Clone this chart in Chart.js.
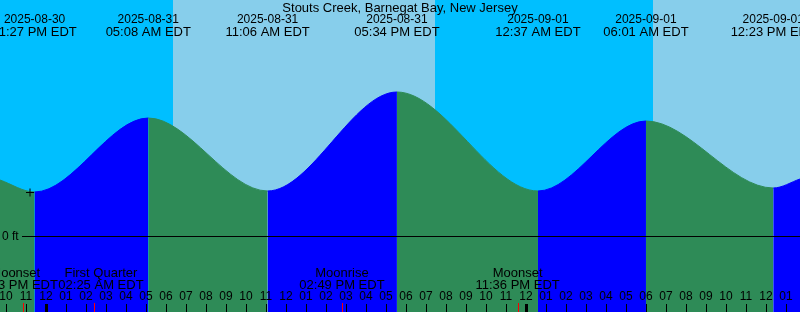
<!DOCTYPE html>
<html lang="en">
<head>
    <meta charset="UTF-8">
    <title>Stouts Creek, Barnegat Bay, New Jersey</title>
    <style>
        html, body { margin: 0; padding: 0; background: #fff; }
        canvas { display: block; }
    </style>
</head>
<body>
    <canvas id="tideChart" width="800" height="312"></canvas>

    <script src="https://cdn.jsdelivr.net/npm/chart.js"></script>
    <script>
        // all times are hours from midnight, 2025-08-31 EDT
        const viewStart = -2.28;
        const viewEnd = 37.72;

        const tideDates = ['2025-08-30', '2025-08-31', '2025-08-31', '2025-08-31', '2025-09-01', '2025-09-01', '2025-09-01'];
        const tideTimes = ['11:27 PM EDT', '05:08 AM EDT', '11:06 AM EDT', '05:34 PM EDT', '12:37 AM EDT', '06:01 AM EDT', '12:23 PM EDT'];
        const tideHours = [-0.55, 5.133, 11.1, 17.567, 24.617, 30.017, 36.383];
        const tideFeet = [0.88, 2.36, 0.90, 2.88, 0.90, 2.30, 0.96];
        const edgeFeet = [1.12, 1.14]; // level at left and right edge

        const nowHour = -0.78;
        const nowFeet = 0.87;

        const dayStarts = [6.35, 30.37];
        const dayEnds = [19.47, viewEnd];

        const moonNames = ['Moonset', 'First Quarter', 'Moonrise', 'Moonset'];
        const moonTimes = ['10:53 PM EDT', '02:25 AM EDT', '02:49 PM EDT', '11:36 PM EDT'];
        const moonHours = [-1.117, 2.417, 14.817, 23.6];
        const moonNudge = [-8, 7, 0, 0]; // px, keeps the first two labels apart

        const yMin = -1.52, yMax = 4.72;

        const title = 'Stouts Creek, Barnegat Bay, New Jersey';
        const fontSmall = '12px "Liberation Sans", Arial, sans-serif';
        const fontText = '13px "Liberation Sans", Arial, sans-serif';
        const nightColor = '#00BFFF', dayColor = '#87CEEB';
        const risingColor = '#0000FF', fallingColor = '#2E8B57';

        const curve = [{ x: viewStart, y: edgeFeet[0] }]
            .concat(tideHours.map((h, i) => ({ x: h, y: tideFeet[i] })))
            .concat([{ x: viewEnd, y: edgeFeet[1] }]);

        const segColor = c => c.p1.parsed.y > c.p0.parsed.y ? risingColor : fallingColor;

        const skyPlugin = {
            id: 'sky',
            beforeDatasetsDraw(chart) {
                const { ctx, chartArea: a, scales: { x } } = chart;
                ctx.save();
                ctx.fillStyle = nightColor;
                ctx.fillRect(a.left, a.top, a.width, a.height);
                ctx.fillStyle = dayColor;
                dayStarts.forEach((h, i) => {
                    const x0 = Math.round(x.getPixelForValue(h));
                    const x1 = Math.round(x.getPixelForValue(dayEnds[i]));
                    ctx.fillRect(x0, a.top, x1 - x0, a.height);
                });
                ctx.restore();
            }
        };

        const labelPlugin = {
            id: 'labels',
            afterDatasetsDraw(chart) {
                const { ctx, chartArea: a, scales: { x, y } } = chart;
                ctx.save();
                ctx.fillStyle = '#000';
                ctx.strokeStyle = '#000';
                ctx.textAlign = 'center';
                ctx.textBaseline = 'middle';

                // zero line
                const y0 = Math.round(y.getPixelForValue(0)) + 0.5;
                ctx.lineWidth = 1;
                ctx.beginPath();
                ctx.moveTo(22, y0);
                ctx.lineTo(a.right, y0);
                ctx.stroke();
                ctx.font = fontSmall;
                ctx.textAlign = 'left';
                ctx.fillText('0 ft', 2, y0);
                ctx.textAlign = 'center';

                ctx.font = fontText;
                ctx.fillText(title, 400, 8);

                tideHours.forEach((h, i) => {
                    const px = x.getPixelForValue(h);
                    ctx.font = fontSmall;
                    ctx.fillText(tideDates[i], px, 20);
                    ctx.font = fontText;
                    ctx.fillText(tideTimes[i], px, 32);
                });

                ctx.font = fontText;
                moonHours.forEach((h, i) => {
                    const px = x.getPixelForValue(h) + moonNudge[i];
                    ctx.fillText(moonNames[i], px, 273);
                    ctx.fillText(moonTimes[i], px, 285);
                });

                // hour ticks
                ctx.font = fontSmall;
                for (let h = Math.ceil(viewStart); h <= viewEnd; h++) {
                    const px = Math.round(x.getPixelForValue(h));
                    const hr = ((h % 12) + 12) % 12 || 12;
                    ctx.fillText(String(hr).padStart(2, '0'), px, 297);
                    if (h % 24 === 0) {
                        ctx.fillRect(px - 1, 304, 3, 8);
                    } else {
                        ctx.fillRect(px, 304, 1, 8);
                    }
                }

                ctx.fillStyle = '#FF0000';
                moonHours.forEach(h => {
                    const px = Math.round(x.getPixelForValue(h));
                    ctx.fillRect(px, 303, 1, 9);
                });
                ctx.restore();
            }
        };

        new Chart(document.getElementById('tideChart'), {
            type: 'line',
            data: {
                datasets: [
                    {
                        type: 'scatter',
                        label: 'Now',
                        data: [{ x: nowHour, y: nowFeet }],
                        pointStyle: 'cross',
                        pointRadius: 4,
                        borderColor: '#000',
                        borderWidth: 1,
                        order: 0
                    },
                    {
                        label: 'Tide',
                        data: curve,
                        fill: 'start',
                        cubicInterpolationMode: 'monotone',
                        pointRadius: 0,
                        borderWidth: 1,
                        backgroundColor: fallingColor,
                        borderColor: fallingColor,
                        segment: {
                            backgroundColor: segColor,
                            borderColor: segColor
                        },
                        order: 1
                    }
                ]
            },
            options: {
                responsive: false,
                animation: false,
                events: [],
                layout: { padding: 0, autoPadding: false },
                plugins: {
                    legend: { display: false },
                    tooltip: { enabled: false }
                },
                scales: {
                    x: { type: 'linear', min: viewStart, max: viewEnd, display: false },
                    y: { min: yMin, max: yMax, display: false }
                }
            },
            plugins: [skyPlugin, labelPlugin]
        });
    </script>
</body>
</html>
